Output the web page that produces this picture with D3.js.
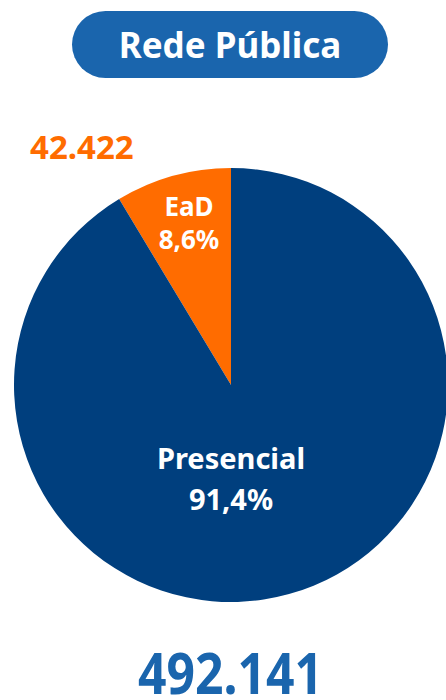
<!DOCTYPE html>
<html>
<head>
<meta charset="utf-8">
<script src="https://cdn.jsdelivr.net/npm/d3@7"></script>
<style>
  html, body { margin: 0; padding: 0; background: #ffffff; }
  svg { display: block; }
  text { font-family: "Noto Sans", "Open Sans", sans-serif; font-weight: 700; }
</style>
</head>
<body>
<svg id="chart" width="446" height="700"></svg>
<script>
// Enrolments in the public network by delivery mode
const title = "Rede Pública";
const categories = ["EaD", "Presencial"];
const values = [42422, 449719];
const sliceColors = ["#ff6c00", "#003f7e"];
const total = d3.sum(values);
const fmtInt = d3.formatLocale({ decimal: ",", thousands: ".", grouping: [3], currency: ["", ""] }).format(",d");
const fmtPct = v => (v * 100).toFixed(1).replace(".", ",") + "%";

const svg = d3.select("#chart");
const cx = 231, cy = 385, r = 217;

// Title pill
const pill = svg.append("g");
pill.append("rect")
  .attr("x", 72).attr("y", 11).attr("width", 316).attr("height", 67)
  .attr("rx", 33.5).attr("fill", "#1a65ad");
pill.append("text")
  .attr("x", 230).attr("y", 58)
  .attr("text-anchor", "middle")
  .attr("font-size", 35)
  .attr("fill", "#ffffff")
  .text(title);

// Pie, starting at 12 o'clock and running counter-clockwise for the first slice
const pie = d3.pie().sort(null).value(d => d)
  .startAngle(0).endAngle(-2 * Math.PI);
const arcs = pie(values);
const arc = d3.arc().innerRadius(0).outerRadius(r);

const g = svg.append("g").attr("transform", `translate(${cx},${cy})`);
g.selectAll("path").data(arcs).join("path")
  .attr("d", arc)
  .attr("fill", (d, i) => sliceColors[i]);

// Slice labels
const labelPos = [
  { x: -42, y: -169, dy: 33, size: 26 },
  { x: 0, y: 84, dy: 41, size: 29 }
];
arcs.forEach((a, i) => {
  const p = labelPos[i];
  const t = g.append("text")
    .attr("text-anchor", "middle")
    .attr("fill", "#ffffff")
    .attr("font-size", p.size);
  t.append("tspan").attr("x", p.x).attr("y", p.y).text(categories[i]);
  t.append("tspan").attr("x", p.x).attr("y", p.y + p.dy).text(fmtPct(values[i] / total));
});

// Absolute values
svg.append("text")
  .attr("x", 30).attr("y", 159)
  .attr("font-size", 33)
  .attr("fill", "#ff6c00")
  .text(fmtInt(values[0]));

svg.append("text")
  .attr("x", 138).attr("y", 694)
  .attr("font-size", 58)
  .attr("textLength", 185)
  .attr("lengthAdjust", "spacingAndGlyphs")
  .attr("fill", "#1a65ad")
  .text(fmtInt(total));
</script>
</body>
</html>
